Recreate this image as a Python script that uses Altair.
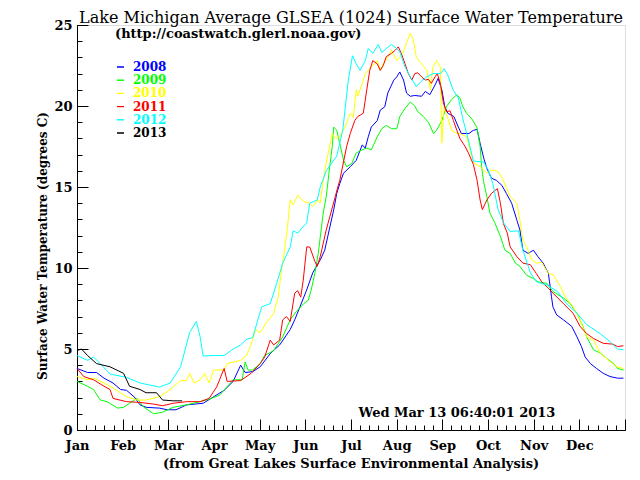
import altair as alt
import pandas as pd

years = ["2008", "2009", "2010", "2011", "2012", "2013"]
colors = ["#0000ff", "#00ff00", "#ffff00", "#ff0000", "#00ffff", "#000000"]
months = ["Jan", "Feb", "Mar", "Apr", "May", "Jun", "Jul", "Aug", "Sep", "Oct", "Nov", "Dec"]

day_2008 = [0,7,13,18,24,29,33,38,42,46,55,60,66,73,84,91,98,104,109,112,117,122,129,135,142,145,148.5,153,157,162,165,168,171,173,175,177.5,182,186,190,192,194,196,200,202,205,207,211,213,215,217.5,219.5,222,225,229.5,232,235,238.5,240.5,243,245,247,251,254,256,261,264,266.5,268.5,271,273,276,279.5,283,286,289.5,293,295,297,300.5,304,307,310.5,314,316,317,319.5,324,329.5,333,336,338.5,342,346,350.5,355,360,364]
temp_2008 = [3.8,3.55,3.55,3.2,2.9,2.5,2.45,2.05,1.55,1.4,1.35,1.25,1.25,1.55,1.65,2.05,2.45,3.0,4.0,3.55,3.6,3.9,4.75,5.25,6.2,6.8,7.6,8.65,9.7,10.5,11.1,12.35,13.6,14.6,15.2,15.85,16.25,16.65,17.6,17.4,18.1,18.7,19.1,19.75,19.95,20.8,21.6,21.8,22.1,21.6,20.8,20.6,20.65,20.6,20.9,20.7,21.3,21.7,21.0,19.95,19.55,19.35,18.7,18.3,18.3,18.5,18.55,17.7,16.75,16.15,15.55,15.4,15.1,14.6,14.0,12.95,12.35,11.1,10.9,11.1,10.7,10.3,9.65,8.25,7.6,7.1,6.8,6.4,5.75,5.15,4.5,4.1,3.8,3.5,3.3,3.2,3.2]

day_2009 = [0,7,11,15.5,20,27,31,35,40,44,51,57,64,73,82,88,95,104,110,112,114,117,122,125,131,137,142,146,151,154,156,158.5,160.7,162,164,166,168,170,171,173,175,177.5,179.6,183,186,190,193,196,200,203,206,209.5,213,215,218.5,222,225,227,230.7,234,237.5,239.5,243,246,249.5,253,255,257,259.5,263,266.5,268.5,269.5,270.7,273,275,278.5,282,285,288.5,292,295,299.5,304,307,313,317,324,328.5,333,337,339.5,344,348.5,353,357.5,360,364]
temp_2009 = [3.0,2.7,2.5,1.85,1.75,1.35,1.4,1.65,1.95,1.45,1.0,1.1,1.4,1.55,1.75,1.9,2.15,3.1,3.1,4.2,3.7,3.7,4.1,4.6,4.9,5.75,6.8,7.3,7.8,8.0,8.65,9.7,10.9,11.9,13.4,14.4,16.0,17.5,18.7,18.5,17.7,16.65,16.25,16.45,17.1,17.3,17.4,17.3,18.1,18.6,18.8,18.6,18.6,19.35,19.85,20.25,20.0,19.65,19.35,19.0,18.3,18.5,19.1,19.95,20.4,20.7,20.5,19.95,19.55,19.2,18.65,17.5,16.25,15.4,14.4,13.4,12.75,11.95,11.1,10.9,10.3,10.1,9.55,9.35,9.15,9.05,8.55,8.15,7.8,7.2,6.4,5.75,4.95,4.75,4.4,4.1,3.8,3.7]

day_2010 = [0,7,11,18,24,33,40,46,55,62,69,73,75,78,82,85,88,91,98,100,109,113,116,119,122,126,131,134,136,138.5,140,142,144,147,151,155,157,160.5,162,164,166,170,172,175,178.5,182,184,186,187,190,192,196,200,202,204,207,209.5,213,217,219.5,222,224,226,229.5,233,235.5,237,239.5,242,243,244.5,246,249.5,253,255,259.5,264,268.5,273,276,280.5,284,288.5,293,295,297,299.5,303,306,309.5,314,317,322,325,330.5,335,339.5,344,348.5,354,359.5,364]
temp_2010 = [3.3,3.1,3.2,2.9,2.6,2.05,1.85,1.85,2.05,2.5,3.05,3.05,3.5,2.9,3.1,3.5,2.9,3.7,3.7,4.1,4.3,4.6,5.3,6.2,6.0,6.6,7.2,8.2,9.7,11.3,12.35,14.2,13.9,14.5,14.1,14.0,13.8,14.2,14.0,15.4,16.5,18.3,18.0,18.1,18.7,19.55,19.3,21.0,20.6,21.4,22.0,22.4,22.8,22.2,22.6,23.0,23.45,22.8,23.25,23.9,24.5,24.1,23.0,22.6,22.2,21.0,22.4,22.8,22.4,17.7,19.95,19.55,18.5,18.3,18.3,18.1,16.5,16.25,15.85,16.05,15.95,15.4,14.4,14.0,12.95,11.7,11.3,10.5,10.3,10.35,9.65,9.6,8.85,8.25,7.6,6.8,5.75,5.55,4.75,4.3,3.9,3.8]

day_2011 = [0,4.5,11,18,22,24,33,42,51,57,64,73,82,88,93,98,100,109,116,122,125,128.7,131,135,137,139.5,142,145,147,149,150.7,153,155,158.5,160,162,166,168.5,172,174,175,179.6,182,185,187,190.7,193,195,197,200,202,204,206,209.5,212,214,216,218.5,220.7,223,225,227,229.5,232,234,236,238.5,240,242,244,246,248.5,250.7,253,255,258.5,260.7,264,266.5,268.5,270,273,276,280,282,284,286.6,288.5,293,297,302,306,309.5,314,317,324,330.5,335,339.5,344,350.5,357,360,364]
temp_2011 = [3.8,3.3,3.1,2.7,2.5,1.95,1.75,1.7,1.6,1.5,1.65,1.75,1.75,1.95,2.65,3.8,3.0,3.05,3.5,4.1,4.5,5.55,5.25,5.55,6.8,7.0,6.7,8.45,8.6,8.2,9.25,11.3,11.3,10.4,10.1,10.7,12.35,13.2,14.4,15.1,15.4,17.5,18.3,19.1,19.35,19.55,21.0,22.2,22.8,22.6,22.2,22.5,23.05,23.25,23.45,23.65,23.25,22.6,22.0,21.6,22.0,22.05,21.8,21.6,21.65,21.4,21.8,22.0,21.4,20.2,19.65,19.7,19.1,18.5,18.0,17.5,17.1,16.4,15.4,14.2,13.6,14.2,14.6,14.9,14.0,12.75,12.15,11.3,10.7,10.3,10.2,9.65,9.15,8.75,8.45,7.8,7.2,6.4,5.95,5.65,5.35,5.3,5.15,5.2]

day_2012 = [0,7,11,15.5,22,33,42,55,62,69,75,79.5,82,84,91,98,104,109,113,117,123,128.7,133,137,142,144,147,153,155,160,162,166,173,177,180.7,183.5,186,188.5,192,194,197,200.7,203,206,209.5,213,215,218.5,222,226,229,233,237,242,244.5,247,250.5,254,257,260.7,264,270.7,274,277,280.5,284,288.5,294,297,302,306,313,320,326,333,339.5,348.5,355,360,364]
temp_2012 = [4.6,4.3,4.5,4.1,3.45,3.25,2.9,2.65,2.9,3.9,6.0,6.7,5.75,4.57,4.6,4.6,5.0,5.25,5.6,5.7,7.6,7.8,9.05,10.3,11.3,12.3,12.15,12.8,14.0,14.2,15.0,16.0,16.9,18.5,21.6,23.1,22.6,22.2,22.8,23.55,23.25,23.8,23.3,23.55,23.8,23.55,23.35,22.4,21.8,21.2,21.5,21.8,22.0,22.0,22.3,21.9,21.0,20.5,19.2,17.9,16.6,16.55,16.05,15.2,13.6,12.8,12.25,12.3,11.1,9.7,9.15,8.95,8.55,7.8,7.2,6.5,5.95,5.45,5.0,4.95]

day_2013 = [0,3,7,13,22,31,35,42,46,53,57,64,70]
temp_2013 = [4.9,5.0,4.6,4.1,3.9,3.5,2.7,2.5,2.3,2.3,1.85,1.8,1.8]

series = {
    "2008": (day_2008, temp_2008),
    "2009": (day_2009, temp_2009),
    "2010": (day_2010, temp_2010),
    "2011": (day_2011, temp_2011),
    "2012": (day_2012, temp_2012),
    "2013": (day_2013, temp_2013),
}
rows = []
for yr, (d, t) in series.items():
    assert len(d) == len(t), yr
    for a, b in zip(d, t):
        rows.append({"year": yr, "day": a, "temp": b})
df = pd.DataFrame(rows)

W, H = 548, 405
FONT = "DejaVu Serif"
xscale = alt.Scale(domain=[0, 365], nice=False, zero=False)
yscale = alt.Scale(domain=[0, 25], nice=False)

month_starts = [k * 365 / 12 for k in range(12)]
label_expr = "[" + ",".join("'%s'" % m for m in months) + "][round(datum.value*12/365)]"

lines = alt.Chart(df).mark_line(strokeWidth=1).encode(
    x=alt.X("day:Q", scale=xscale, axis=alt.Axis(
        orient="bottom", values=month_starts, tickSize=0, labelExpr=label_expr,
        domainColor="black", domainWidth=1, labelFont=FONT, labelFontSize=13,
        labelFontWeight="bold", labelColor="black", labelPadding=9, grid=False,
        title=None, labelFlush=False, labelOverlap=False)),
    y=alt.Y("temp:Q", scale=yscale, axis=alt.Axis(
        orient="left", values=[0, 5, 10, 15, 20, 25], tickSize=0,
        domainColor="black", domainWidth=1, labelFont=FONT, labelFontSize=13,
        labelFontWeight="bold", labelColor="black", labelPadding=5, grid=False,
        title=None, labelFlush=False, labelOverlap=False)),
    color=alt.Color("year:N", scale=alt.Scale(domain=years, range=colors), legend=None),
)

ends = pd.DataFrame({"day": [0, 365], "temp": [0, 25]})

def tick_layer(xvals, yvals, size):
    return alt.Chart(ends).mark_point(opacity=0).encode(
        x=alt.X("day:Q", scale=xscale, axis=alt.Axis(
            orient="top", offset=-H, values=xvals, tickSize=size, tickColor="black",
            labels=False, domain=False, grid=False, title=None)),
        y=alt.Y("temp:Q", scale=yscale, axis=alt.Axis(
            orient="right", offset=-W, values=yvals, tickSize=size, tickColor="black",
            labels=False, domain=False, grid=False, title=None)),
    )

minor = tick_layer([i * 365 / 60 for i in range(61)], list(range(26)), 5)
major = tick_layer(month_starts + [365], [0, 5, 10, 15, 20, 25], 11)

def label(text, x, y, size=13, weight="bold", align="center", angle=0, color="black"):
    return alt.Chart(pd.DataFrame({"t": [text]})).mark_text(
        font=FONT, fontSize=size, fontWeight=weight, align=align, baseline="middle",
        angle=angle, color=color).encode(text="t:N", x=alt.value(x), y=alt.value(y))

texts = [
    label("Lake Michigan Average GLSEA (1024) Surface Water Temperature", 274, -7, size=16, weight="normal"),
    label("(http://coastwatch.glerl.noaa.gov)", 38, 9, size=13, align="left"),
    label("Wed Mar 13 06:40:01 2013", 380, 388, size=13),
    label("(from Great Lakes Surface Environmental Analysis)", 274, 439, size=13),
    label("Surface Water Temperature (degrees C)", -34, 221, size=12, angle=270),
]

legend_layers = []
for i, (yr, c) in enumerate(zip(years, colors)):
    ypix = 42 + 13.2 * i
    legend_layers.append(
        alt.Chart(ends).mark_rule(color=c, strokeWidth=1).encode(
            x=alt.value(40), x2=alt.value(47), y=alt.value(ypix)))
    legend_layers.append(label(yr, 56, ypix, size=12, align="left", color=c))

chart = alt.layer(lines, minor, major, *texts, *legend_layers).resolve_axis(
    x="independent", y="independent"
).properties(
    width=W, height=H,
    autosize=alt.AutoSizeParams(type="none"),
    padding={"left": 69, "top": 17, "right": 7, "bottom": 42},
).configure_view(stroke=None).configure(background="white")

chart.save("out.html", embed_options={"renderer": "svg", "actions": False})
